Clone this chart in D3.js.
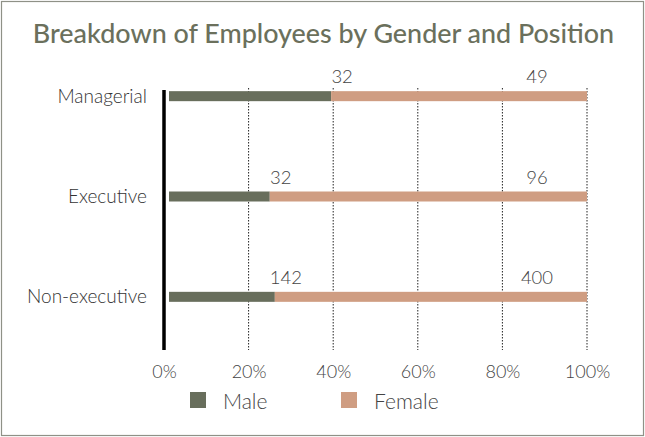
<!DOCTYPE html>
<html>
<head>
<meta charset="utf-8">
<script src="https://cdn.jsdelivr.net/npm/d3@7"></script>
<style>
  html, body { margin: 0; padding: 0; background: #fff; }
  svg { display: block; }
  text { font-family: Lato, "Noto Sans", sans-serif; }
</style>
</head>
<body>
<svg id="chart" width="645" height="437"></svg>
<script>
// Headcount by position and gender
const positions = ["Managerial", "Executive", "Non-executive"];
const male = [32, 32, 142];
const female = [49, 96, 400];
const seriesNames = ["Male", "Female"];
const seriesColors = ["#686e5c", "#cf9d82"];
const tickValues = [0, 0.2, 0.4, 0.6, 0.8, 1];

const W = 645, H = 437;
const svg = d3.select("#chart");

// frame
svg.append("rect")
  .attr("x", 1.5).attr("y", 1.5)
  .attr("width", W - 3).attr("height", H - 3)
  .attr("fill", "#fff").attr("stroke", "#8f9187").attr("stroke-width", 1.2);

// title
svg.append("text")
  .attr("x", W / 2 + 1).attr("y", 43)
  .attr("text-anchor", "middle")
  .attr("font-size", 26.9).attr("font-weight", 500)
  .attr("fill", "#6b705c")
  .text("Breakdown of Employees by Gender and Position");

const x = d3.scaleLinear().domain([0, 1]).range([164, 587]);
const y = d3.scaleBand().domain(positions).range([46, 347]).paddingInner(0).paddingOuter(0);
const barH = 10;
const plotTop = 88, plotBottom = 350;

const rows = positions.map((p, i) => {
  const total = male[i] + female[i];
  return { position: p, male: male[i], female: female[i], share: male[i] / total };
});

// dotted vertical grid lines
const grid = svg.append("g");
tickValues.slice(1).forEach(t => {
  grid.append("line")
    .attr("x1", x(t)).attr("x2", x(t))
    .attr("y1", plotTop).attr("y2", plotBottom)
    .attr("stroke", "#222").attr("stroke-width", 1)
    .attr("stroke-dasharray", "1.5,1.5");
});

// bottom axis with percentage labels, no domain/tick marks
const xAxis = d3.axisBottom(x)
  .tickValues(tickValues)
  .tickFormat(d3.format(".0%"))
  .tickSize(0).tickPadding(0);
const gx = svg.append("g").attr("transform", `translate(0,${364})`).call(xAxis);
gx.select(".domain").remove();
gx.selectAll("text")
  .attr("font-family", "Lato, 'Noto Sans', sans-serif")
  .attr("font-size", 18).attr("font-weight", 300)
  .attr("fill", "#444").attr("dy", "0.75em");

// category labels
const yAxis = d3.axisLeft(y).tickSize(0).tickPadding(0);
const gy = svg.append("g").attr("transform", `translate(147,0)`).call(yAxis);
gy.select(".domain").remove();
gy.selectAll("text")
  .attr("font-family", "Lato, 'Noto Sans', sans-serif")
  .attr("font-size", 19).attr("font-weight", 300)
  .attr("fill", "#333").attr("dy", "0.35em");

// bars
const barStart = x(0) + 5;
const bars = svg.append("g");
rows.forEach(r => {
  const cy = y(r.position) + y.bandwidth() / 2;
  const split = x(r.share);
  bars.append("rect")
    .attr("x", barStart).attr("y", cy - barH / 2)
    .attr("width", split - barStart).attr("height", barH)
    .attr("fill", seriesColors[0]);
  bars.append("rect")
    .attr("x", split).attr("y", cy - barH / 2)
    .attr("width", x(1) - split).attr("height", barH)
    .attr("fill", seriesColors[1]);
  // value labels
  bars.append("text")
    .attr("x", split + 11).attr("y", cy - barH / 2 - 8)
    .attr("text-anchor", "middle")
    .attr("font-size", 18.5).attr("font-weight", 300).attr("fill", "#444")
    .text(r.male);
  bars.append("text")
    .attr("x", x(1) - 50).attr("y", cy - barH / 2 - 8)
    .attr("text-anchor", "middle")
    .attr("font-size", 18.5).attr("font-weight", 300).attr("fill", "#444")
    .text(r.female);
});

// left axis bar
svg.append("line")
  .attr("x1", x(0)).attr("x2", x(0))
  .attr("y1", 90).attr("y2", plotBottom)
  .attr("stroke", "#000").attr("stroke-width", 3.5);

// legend
const legend = svg.append("g");
const legendX = [190, 341];
seriesNames.forEach((name, i) => {
  legend.append("rect")
    .attr("x", legendX[i]).attr("y", 392)
    .attr("width", 16).attr("height", 16)
    .attr("fill", seriesColors[i]);
  legend.append("text")
    .attr("x", legendX[i] + 33).attr("y", 409)
    .attr("font-size", 21).attr("font-weight", 300).attr("fill", "#444")
    .text(name);
});
</script>
</body>
</html>
